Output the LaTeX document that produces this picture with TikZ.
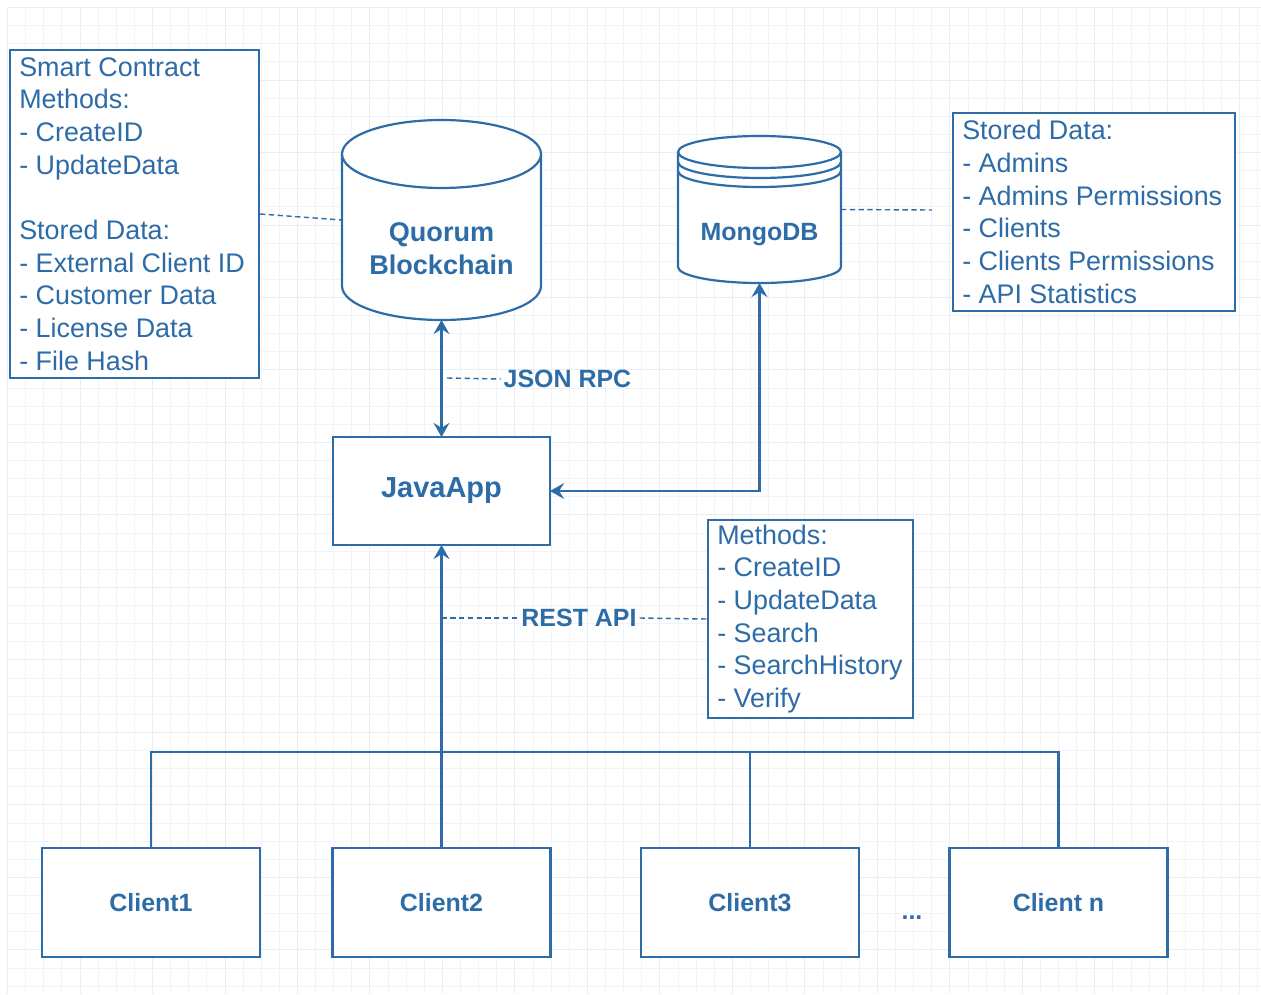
\documentclass[tikz,border=0pt]{standalone}
\usepackage{fontspec}
\setmainfont{Liberation Sans}
\usetikzlibrary{arrows.meta, positioning, calc}
\definecolor{flowblue}{RGB}{46,108,168}
\definecolor{gridminor}{RGB}{240,244,250}
\definecolor{gridmajor}{RGB}{232,238,246}

\begin{document}
\begin{tikzpicture}[x=0.02cm, y=-0.02cm,
  >={Stealth[length=8pt, width=9pt, inset=2.8pt]},
  boxline/.style={draw=flowblue, line width=1.25pt},
  notebox/.style={boxline, fill=white, inner sep=0pt},
  notetext/.style={anchor=west, align=left, inner sep=0pt, text=flowblue, font=\fontsize{15.3}{18.6}\selectfont},
  plainbox/.style={boxline, fill=white, inner sep=0pt, outer sep=0pt, text=flowblue, font=\fontsize{14.2}{18.8}\selectfont\bfseries},
  shapearea/.style={inner sep=0pt, outer sep=0pt},
  boldlabel/.style={text=flowblue, inner sep=1.5pt, align=center, font=\fontsize{14.2}{18.8}\selectfont\bfseries},
  dotline/.style={draw=flowblue, line width=0.8pt, dash pattern=on 3pt off 2pt},
  link/.style={draw=flowblue, line width=1.25pt}]

  % Page and grid
  \fill[white] (0,0) rectangle (1261,994);
  \useasboundingbox (0,0) rectangle (1261,994);
  \begin{scope}[shift={(7.5,7.5)}]
    \draw[gridminor, line width=0.5pt, step=0.3625cm] (0,986.5) grid (1253.5,0);
    \draw[gridmajor, line width=0.5pt, step=1.45cm] (0,986.5) grid (1253.5,0);
  \end{scope}

  % Quorum cylinder
  \draw[boxline, fill=white] (342,154) -- (342,286) .. controls (342,304.8) and (386.5,320) .. (441.5,320)
    .. controls (496.5,320) and (541,304.8) .. (541,286) -- (541,154);
  \draw[boxline, fill=white] (441.5,154) ellipse [x radius=1.99cm, y radius=0.68cm];
  \node[shapearea, minimum width=3.98cm, minimum height=4cm] (quorum) at (441.5,220) {};
  \node[boldlabel, font=\fontsize{15.4}{18.8}\selectfont\bfseries] (quorumlbl) at (441.5,248.5) {Quorum\\Blockchain};

  % MongoDB cylinder
  \draw[boxline, fill=white] (678,152) -- (678,267) .. controls (678,275.8) and (714.5,283) .. (759.5,283)
    .. controls (804.5,283) and (841,275.8) .. (841,267) -- (841,152);
  \draw[boxline, fill=white] (759.5,152) ellipse [x radius=1.63cm, y radius=0.32cm];
  \draw[boxline] (678,162) .. controls (678,170.8) and (714.5,178) .. (759.5,178)
    .. controls (804.5,178) and (841,170.8) .. (841,162);
  \draw[boxline] (678,171) .. controls (678,179.8) and (714.5,187) .. (759.5,187)
    .. controls (804.5,187) and (841,179.8) .. (841,171);
  \node[shapearea, minimum width=3.26cm, minimum height=2.94cm] (mongo) at (759.5,209.5) {};
  \node[boldlabel] (mongolbl) at (759.5,235) {MongoDB};

  % Notes
  \node[notebox, minimum width=4.98cm, minimum height=6.56cm] (contract) at (134.5,214) {};
  \node[notetext] (contracttxt) at ([xshift=0.2cm]contract.west) {Smart Contract\\Methods:\\- CreateID\\- UpdateData\\[18.6pt]Stored Data:\\- External Client ID\\- Customer Data\\- License Data\\- File Hash};
  \node[notebox, minimum width=5.64cm, minimum height=3.96cm] (stored) at (1094,212) {};
  \node[notetext] (storedtxt) at ([xshift=0.2cm]stored.west) {Stored Data:\\- Admins\\- Admins Permissions\\- Clients\\- Clients Permissions\\- API Statistics};
  \node[notebox, minimum width=4.1cm, minimum height=3.96cm] (methods) at (810.5,619) {};
  \node[notetext] (methodstxt) at ([xshift=0.2cm]methods.west) {Methods:\\- CreateID\\- UpdateData\\- Search\\- SearchHistory\\- Verify};

  % Application and clients
  \node[plainbox, minimum width=4.34cm, minimum height=2.16cm, font=\fontsize{16.5}{20}\selectfont\bfseries] (java) at (441.5,491) {JavaApp};
  \node[plainbox, minimum width=4.36cm, minimum height=2.18cm] (client1) at (151,902.5) {Client1};
  \node[plainbox, minimum width=4.36cm, minimum height=2.18cm] (client2) at (441.5,902.5) {Client2};
  \node[plainbox, minimum width=4.36cm, minimum height=2.18cm] (client3) at (750,902.5) {Client3};
  \node[plainbox, minimum width=4.36cm, minimum height=2.18cm] (clientn) at (1058.5,902.5) {Client n};
  \node[boldlabel] (dots) at (912,918) {...};

  % Protocol labels
  \node[boldlabel] (jsonlbl) at (567.5,379) {JSON RPC};
  \node[boldlabel] (restlbl) at (579,618) {REST API};
  \coordinate (jsonstart) at (447,378);
  \coordinate (restjoin) at (441.5,618);
  \coordinate (mongoend) at (932,210);
  \coordinate (busR) at (1058.5,752);

  % Connectors
  \draw[link, <->] (quorum.south) -- (java.north);
  \draw[link, <->] (mongo.south) |- (java.east);
  \draw[link, ->] (client2.north) -- (java.south);
  \draw[link] (client1.north) |- (busR) -- (clientn.north);
  \draw[link] (client3.north) -- (client3.north |- busR);

  % Dotted notes
  \draw[dotline] (contract.east) -- (quorum.west);
  \draw[dotline] (mongo.east) -- (mongoend);
  \draw[dotline] (jsonstart) -- (jsonlbl.west);
  \draw[dotline] (restjoin) -- (restlbl.west);
  \draw[dotline] (restlbl.east) -- (methods.west);
\end{tikzpicture}
\end{document}
